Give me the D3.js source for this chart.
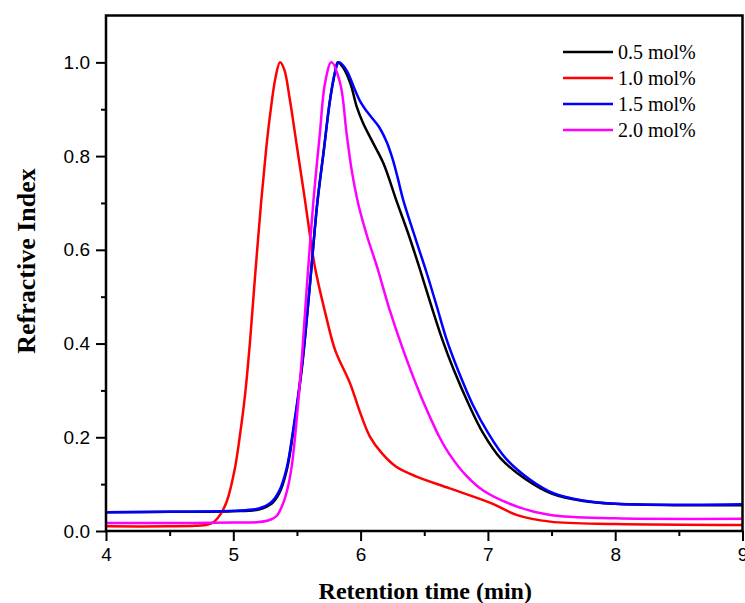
<!DOCTYPE html>
<html lang="en">
<head>
    <meta charset="UTF-8">
    <title>Refractive Index vs Retention time</title>
    <script type="text/javascript" src="https://cdn.jsdelivr.net/npm/d3@7/dist/d3.min.js"></script>
    <style type="text/css">
        body { margin: 0; background: #fff; }
        svg { display: block; }
    </style>
</head>
<body>
    <script type="text/javascript">
        //Width and height
        var w = 745;
        var h = 603;
        var margin = {top: 15.5, right: 2.5, bottom: 72, left: 106};

        //Series names and colours
        var seriesNames = ["0.5 mol%", "1.0 mol%", "1.5 mol%", "2.0 mol%"];
        var seriesColors = ["#000000", "#ff0000", "#0000ff", "#ff00ff"];

        //Curves: [retention time, refractive index]
        var black05 = [
            [4.0, 0.040], [4.5, 0.041], [5.0, 0.042], [5.2, 0.046], [5.3, 0.058],
            [5.36, 0.08], [5.42, 0.13], [5.47, 0.21], [5.54, 0.35], [5.6, 0.52],
            [5.66, 0.70], [5.71, 0.81], [5.76, 0.92], [5.80, 0.98], [5.82, 1.0],
            [5.86, 0.99], [5.92, 0.955], [5.97, 0.905], [6.02, 0.87], [6.10, 0.827],
            [6.18, 0.784], [6.28, 0.706], [6.38, 0.63], [6.47, 0.555], [6.55, 0.485],
            [6.64, 0.41], [6.73, 0.345], [6.85, 0.27], [6.96, 0.21], [7.1, 0.155],
            [7.3, 0.11], [7.5, 0.08], [7.75, 0.064], [8.0, 0.058], [8.5, 0.055], [9.0, 0.055]
        ];
        var red10 = [
            [4.0, 0.010], [4.5, 0.010], [4.7, 0.011], [4.8, 0.014], [4.85, 0.02],
            [4.9, 0.036], [4.95, 0.064], [5.01, 0.13], [5.05, 0.20], [5.09, 0.285],
            [5.13, 0.40], [5.17, 0.54], [5.22, 0.706], [5.26, 0.82], [5.29, 0.89],
            [5.33, 0.965], [5.367, 1.0], [5.40, 0.985], [5.445, 0.919], [5.50, 0.82],
            [5.563, 0.706], [5.60, 0.635], [5.64, 0.565], [5.73, 0.457], [5.80, 0.386],
            [5.917, 0.315], [6.0, 0.25], [6.074, 0.201], [6.17, 0.165], [6.28, 0.137],
            [6.44, 0.116], [6.70, 0.091], [7.02, 0.06], [7.23, 0.034], [7.49, 0.020],
            [8.0, 0.015], [9.0, 0.013]
        ];
        var blue15 = [
            [4.0, 0.040], [4.5, 0.041], [5.0, 0.043], [5.2, 0.048], [5.3, 0.062],
            [5.36, 0.085], [5.42, 0.135], [5.47, 0.215], [5.54, 0.355], [5.6, 0.52],
            [5.66, 0.70], [5.71, 0.81], [5.76, 0.92], [5.80, 0.98], [5.83, 1.0],
            [5.89, 0.983], [5.95, 0.945], [6.0, 0.915], [6.05, 0.895], [6.10, 0.878],
            [6.15, 0.86], [6.205, 0.83], [6.25, 0.795], [6.29, 0.755], [6.335, 0.706],
            [6.43, 0.625], [6.52, 0.55], [6.6, 0.478], [6.68, 0.405], [6.77, 0.34],
            [6.88, 0.27], [7.0, 0.21], [7.14, 0.155], [7.33, 0.11], [7.52, 0.08],
            [7.75, 0.065], [8.0, 0.058], [8.5, 0.056], [9.0, 0.057]
        ];
        var magenta20 = [
            [4.0, 0.017], [4.5, 0.017], [5.0, 0.018], [5.2, 0.019], [5.29, 0.024],
            [5.34, 0.032], [5.39, 0.058], [5.43, 0.095], [5.46, 0.14], [5.50, 0.244],
            [5.54, 0.375], [5.58, 0.53], [5.63, 0.706], [5.68, 0.848], [5.72, 0.955],
            [5.77, 1.0], [5.84, 0.955], [5.89, 0.848], [5.93, 0.77], [5.98, 0.70],
            [6.05, 0.63], [6.13, 0.563], [6.23, 0.47], [6.335, 0.386], [6.47, 0.29],
            [6.55, 0.24], [6.62, 0.20], [6.70, 0.163], [6.83, 0.118], [6.96, 0.087],
            [7.23, 0.052], [7.49, 0.034], [8.0, 0.027], [9.0, 0.026]
        ];
        var seriesData = [black05, red10, blue15, magenta20];

        //Tick values
        var xTicks = [4, 5, 6, 7, 8, 9];
        var xMinorTicks = [4.5, 5.5, 6.5, 7.5, 8.5];
        var yTicks = [0.0, 0.2, 0.4, 0.6, 0.8, 1.0];
        var yMinorTicks = [0.1, 0.3, 0.5, 0.7, 0.9];

        var pw = w - margin.left - margin.right;
        var ph = h - margin.top - margin.bottom;

        //Create scale functions
        var xScale = d3.scaleLinear().domain([4, 9]).range([0, pw]);
        var yScale = d3.scaleLinear().domain([0, 1.1]).range([ph, 0]);

        //Create SVG element
        var svg = d3.select("body")
            .append("svg")
            .attr("width", w)
            .attr("height", h);

        var g = svg.append("g")
            .attr("transform", "translate(" + margin.left + "," + margin.top + ")");

        g.append("clipPath").attr("id", "plotclip")
            .append("rect").attr("x", 0).attr("y", 0).attr("width", pw).attr("height", ph);

        //Curves
        var line = d3.line()
            .x(function(d) { return xScale(d[0]); })
            .y(function(d) { return yScale(d[1]); })
            .curve(d3.curveCatmullRom.alpha(0.5));

        g.append("g").attr("clip-path", "url(#plotclip)")
            .selectAll("path")
            .data(seriesData)
            .enter()
            .append("path")
            .attr("d", line)
            .attr("fill", "none")
            .attr("stroke", function(d, i) { return seriesColors[i]; })
            .attr("stroke-width", 2.5)
            .attr("stroke-linejoin", "round");

        //Axes
        g.append("g").attr("transform", "translate(0," + ph + ")")
            .call(d3.axisBottom(xScale).tickValues(xTicks).tickSize(10).tickPadding(7)
                .tickFormat(d3.format("d")));
        g.append("g").attr("transform", "translate(0," + ph + ")")
            .call(d3.axisBottom(xScale).tickValues(xMinorTicks).tickSize(5).tickFormat(""));

        g.append("g")
            .call(d3.axisLeft(yScale).tickValues(yTicks).tickSize(10).tickPadding(6)
                .tickFormat(d3.format(".1f")));
        g.append("g")
            .call(d3.axisLeft(yScale).tickValues(yMinorTicks).tickSize(5).tickFormat(""));

        g.selectAll(".domain").remove();
        g.selectAll(".tick line").attr("stroke", "#000").attr("stroke-width", 2);
        g.selectAll(".tick text")
            .attr("font-family", "'Liberation Sans', Arial, sans-serif")
            .attr("font-size", "19px")
            .attr("fill", "#000");

        //Frame
        g.append("rect")
            .attr("x", 0).attr("y", 0)
            .attr("width", pw).attr("height", ph)
            .attr("fill", "none")
            .attr("stroke", "#000")
            .attr("stroke-width", 2.5);

        //Axis titles
        svg.append("text")
            .attr("x", margin.left + pw / 2 + 1)
            .attr("y", 599)
            .attr("text-anchor", "middle")
            .attr("font-family", "'Liberation Serif', 'Times New Roman', serif")
            .attr("font-weight", "bold")
            .attr("font-size", "24px")
            .text("Retention time (min)");

        svg.append("text")
            .attr("transform", "translate(35," + 261 + ") rotate(-90)")
            .attr("text-anchor", "middle")
            .attr("font-family", "'Liberation Serif', 'Times New Roman', serif")
            .attr("font-weight", "bold")
            .attr("font-size", "26px")
            .text("Refractive Index");

        //Legend
        var legend = svg.selectAll(".legend")
            .data(seriesNames)
            .enter()
            .append("g")
            .attr("class", "legend")
            .attr("transform", function(d, i) { return "translate(563," + (52 + i * 26) + ")"; });

        legend.append("line")
            .attr("x1", 0).attr("x2", 50)
            .attr("y1", 0).attr("y2", 0)
            .attr("stroke", function(d, i) { return seriesColors[i]; })
            .attr("stroke-width", 2.5);

        legend.append("text")
            .attr("x", 55)
            .attr("y", 7)
            .attr("font-family", "'Liberation Serif', 'Times New Roman', serif")
            .attr("font-size", "20px")
            .attr("fill", "#000")
            .text(function(d) { return d; });
    </script>
</body>
</html>
